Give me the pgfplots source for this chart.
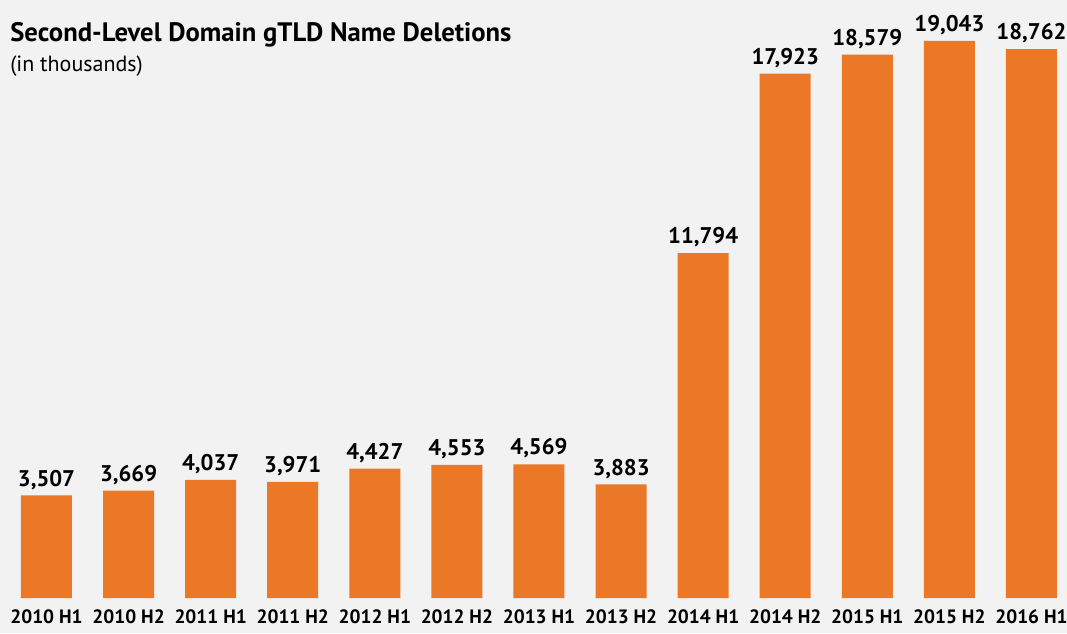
\documentclass[border=0pt]{standalone}
\usepackage{fontspec}
\setmainfont{PT Sans}
\usepackage{pgfplots}
\pgfplotsset{compat=1.18}
\definecolor{bg}{HTML}{F2F2F2}
\definecolor{bar}{HTML}{EA7826}
\begin{document}
\begin{tikzpicture}[x=0.75pt,y=0.75pt]
\useasboundingbox (0,0) rectangle (1067,633);
\fill[bg] (0,0) rectangle (1067,633);
\begin{axis}[
  at={(0,35*0.75pt)}, anchor=south west,
  scale only axis, width=1067*0.75pt, height=598*0.75pt,
  xmin=-0.5665, xmax=12.433, ymin=0, ymax=20444,
  axis line style={draw=none}, major tick style={draw=none},
  ytick=\empty,
  xtick=data,
  xticklabels={2010 H1,2010 H2,2011 H1,2011 H2,2012 H1,2012 H2,2013 H1,2013 H2,2014 H1,2014 H2,2015 H1,2015 H2,2016 H1},
  xticklabel style={font=\fontsize{14.5}{17}\selectfont\bfseries, yshift=-1pt},
  ybar, bar width=51*0.75pt,
  clip=false,
  nodes near coords,
  nodes near coords style={font=\fontsize{17}{20}\selectfont\bfseries, yshift=1pt, /pgf/number format/.cd, fixed, precision=0, 1000 sep={,}, assume math mode=true},
]
\addplot[fill=bar, draw=none] coordinates {
(0,3507) (1,3669) (2,4037) (3,3971) (4,4427) (5,4553) (6,4569) (7,3883) (8,11794) (9,17923) (10,18579) (11,19043) (12,18762)};
\end{axis}
\node[anchor=north west, inner sep=0pt, align=left] at (10,611) {\fontsize{20}{23}\selectfont\bfseries Second-Level Domain gTLD Name Deletions};
\node[anchor=north west, inner sep=0pt, align=left] at (10,577) {\fontsize{16.5}{20}\selectfont (in thousands)};
\end{tikzpicture}
\end{document}
